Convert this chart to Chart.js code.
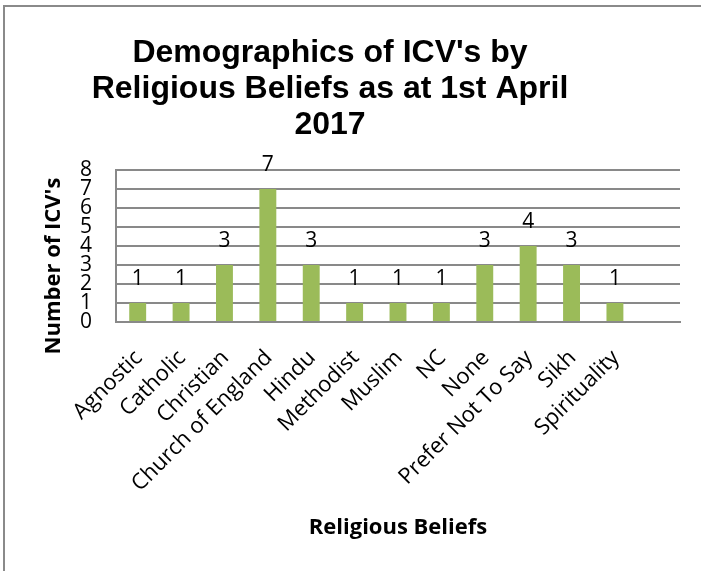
<!DOCTYPE html>
<html>
<head>
<meta charset="utf-8">
<script src="https://cdn.jsdelivr.net/npm/chart.js@4.4.1/dist/chart.umd.min.js"></script>
<style>
  html, body { margin: 0; padding: 0; background: #fff; }
  #chart { display: block; }
</style>
</head>
<body>
<canvas id="chart" width="701" height="571"></canvas>
<script>
// --- данные ---
const categories = ["Agnostic", "Catholic", "Christian", "Church of England", "Hindu", "Methodist",
  "Muslim", "NC", "None", "Prefer Not To Say", "Sikh", "Spirituality", ""];
const counts = [1, 1, 3, 7, 3, 1, 1, 1, 3, 4, 3, 1, null];
const yTicks = [0, 1, 2, 3, 4, 5, 6, 7, 8];
const titleLines = ["Demographics of ICV's by", "Religious Beliefs as at 1st April", "2017"];
const yTitle = "Number of ICV's";
const xTitle = "Religious Beliefs";

const barColor = "#9BBB59";
const gridColor = "#898989";
const bodyFont = "'Open Sans', 'Noto Sans', sans-serif";

// --- рамка, заголовок, подписи значений ---
const decorPlugin = {
  id: "decor",
  afterDraw(chart) {
    const ctx = chart.ctx;
    ctx.save();
    // рамка диаграммы
    ctx.strokeStyle = "#8a8a8a";
    ctx.lineWidth = 2;
    ctx.strokeRect(4, 6, 760, 640);

    // заголовок
    ctx.fillStyle = "#000";
    ctx.font = "bold 32px 'Liberation Sans', Arial, sans-serif";
    ctx.textAlign = "center";
    ctx.textBaseline = "alphabetic";
    titleLines.forEach((line, i) => ctx.fillText(line, 330, 62 + i * 36));

    // подпись оси Y
    ctx.font = "bold 22px " + bodyFont;
    ctx.translate(54, 266);
    ctx.rotate(-Math.PI / 2);
    ctx.textBaseline = "middle";
    ctx.fillText(yTitle, 0, 0);
    ctx.restore();

    // значения над столбцами
    ctx.save();
    ctx.fillStyle = "#000";
    ctx.font = "21px " + bodyFont;
    ctx.textAlign = "center";
    ctx.textBaseline = "alphabetic";
    const meta = chart.getDatasetMeta(0);
    meta.data.forEach((bar, i) => {
      if (counts[i] == null) return;
      ctx.fillText(String(counts[i]), bar.x, bar.y - 18);
    });
    ctx.restore();
  },
};

new Chart(document.getElementById("chart"), {
  type: "bar",
  data: {
    labels: categories,
    datasets: [{
      data: counts,
      backgroundColor: barColor,
      borderWidth: 0,
      barPercentage: 0.39,
      categoryPercentage: 1,
    }],
  },
  options: {
    responsive: false,
    animation: false,
    devicePixelRatio: 1,
    layout: { padding: { top: 170, left: 4, right: 21, bottom: 4 } },
    plugins: { legend: { display: false }, tooltip: { enabled: false } },
    scales: {
      x: {
        afterFit: (s) => { s.height = 245; },
        grid: { display: false, drawTicks: false },
        border: { display: true, color: gridColor, width: 2 },
        ticks: {
          color: "#000",
          font: { family: bodyFont, size: 22 },
          maxRotation: 45,
          minRotation: 45,
          autoSkip: false,
          padding: 23,
          labelOffset: 1,
        },
        title: {
          display: true,
          text: xTitle,
          color: "#000",
          font: { family: bodyFont, size: 22, weight: "bold" },
          padding: { top: 0, bottom: 26 },
        },
      },
      y: {
        min: 0,
        max: 8,
        afterFit: (s) => { s.width = 112; },
        afterBuildTicks: (s) => { s.ticks = yTicks.map((v) => ({ value: v })); },
        grid: { color: gridColor, lineWidth: 2, drawTicks: false },
        border: { display: true, color: gridColor, width: 2 },
        ticks: {
          color: "#000",
          font: { family: bodyFont, size: 21, lineHeight: 1 },
          autoSkip: false,
          padding: 24,
        },
      },
    },
  },
  plugins: [decorPlugin],
});
</script>
</body>
</html>
